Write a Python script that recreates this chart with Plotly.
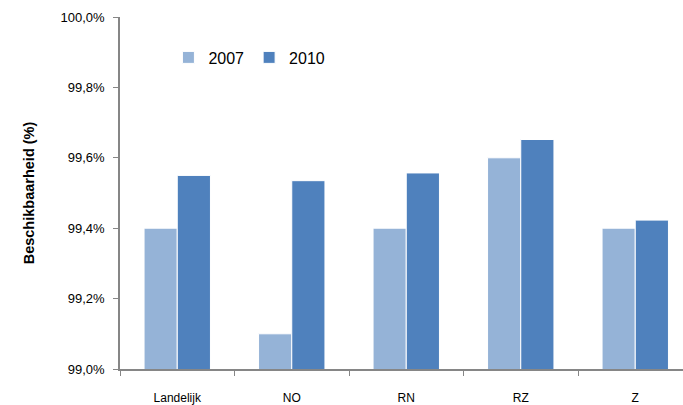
import plotly.graph_objects as go

categories = ["Landelijk", "NO", "RN", "RZ", "Z"]
values_2007 = [99.40, 99.10, 99.40, 99.60, 99.40]
values_2010 = [99.55, 99.535, 99.557, 99.652, 99.423]
y_tickvals = [99.0, 99.2, 99.4, 99.6, 99.8, 100.0]
y_ticktext = ["99,0%", "99,2%", "99,4%", "99,6%", "99,8%", "100,0%"]

font_family = "Liberation Sans, Arial, sans-serif"

fig = go.Figure()
fig.add_trace(go.Bar(name="2007", x=categories, y=values_2007,
                     marker=dict(color="#95B3D7", line=dict(color="white", width=1))))
fig.add_trace(go.Bar(name="2010", x=categories, y=values_2010,
                     marker=dict(color="#4F81BD", line=dict(color="white", width=1))))

fig.update_layout(
    width=683, height=405,
    margin=dict(l=120, r=0, t=17, b=36),
    paper_bgcolor="white", plot_bgcolor="white",
    barmode="group", bargap=0.42, bargroupgap=0,
    font=dict(family=font_family, color="black", size=12),
    legend=dict(orientation="h", x=0.086, y=0.885, xanchor="left", yanchor="middle",
                font=dict(size=16, family=font_family), bgcolor="rgba(0,0,0,0)",
                itemwidth=30, tracegroupgap=0),
    showlegend=True,
)
fig.update_xaxes(
    range=[-0.5, 4.417], showline=True, linecolor="#868686", linewidth=1.5,
    ticks="outside", tickson="boundaries", ticklen=5, tickcolor="#868686",
    showgrid=False, tickfont=dict(size=12), ticklabelstandoff=17,
)
fig.update_yaxes(
    range=[99.0, 100.0], tickvals=y_tickvals, ticktext=y_ticktext,
    showline=True, linecolor="#868686", linewidth=1.5,
    ticks="outside", ticklen=5, tickcolor="#868686", showgrid=False,
    tickfont=dict(size=13), zeroline=False, ticklabelstandoff=6,
    title=dict(text="<b>Beschikbaarheid (%)</b>", font=dict(size=14.5), standoff=22),
)

fig.write_html("out.html", config={"displayModeBar": False},
               post_script="document.body.style.margin='0';document.body.style.padding='0';")
